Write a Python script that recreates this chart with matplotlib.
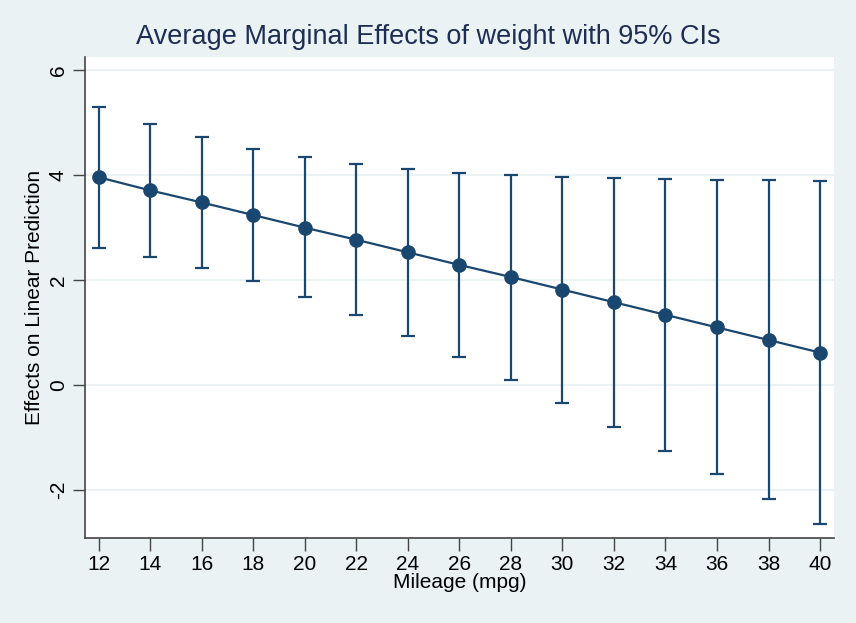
import numpy as np
import matplotlib
matplotlib.use('Agg')
import matplotlib.pyplot as plt

# Average marginal effects of weight at each mileage level (Stata marginsplot)
mpg = [12, 14, 16, 18, 20, 22, 24, 26, 28, 30, 32, 34, 36, 38, 40]
effect = [3.96, 3.71, 3.48, 3.24, 3.00, 2.77, 2.53, 2.29, 2.06, 1.82, 1.58, 1.34, 1.10, 0.86, 0.62]
ci_upper = [5.30, 4.98, 4.72, 4.50, 4.34, 4.21, 4.11, 4.04, 4.01, 3.97, 3.94, 3.92, 3.91, 3.90, 3.89]
ci_lower = [2.61, 2.45, 2.24, 1.98, 1.68, 1.33, 0.94, 0.53, 0.10, -0.34, -0.79, -1.25, -1.70, -2.17, -2.64]
y_ticks = [-2, 0, 2, 4, 6]

plt.rcParams['font.family'] = ['Liberation Sans', 'DejaVu Sans']
plt.rcParams['axes.unicode_minus'] = False

navy = '#1A476F'
bg = '#EAF2F3'

fig = plt.figure(figsize=(8.56, 6.23), dpi=100, facecolor=bg)
ax = fig.add_axes([0.0993, 0.1365, 0.875, 0.772])
ax.set_facecolor('white')

effect = np.array(effect)
yerr = [effect - np.array(ci_lower), np.array(ci_upper) - effect]
ax.errorbar(mpg, effect, yerr=yerr, fmt='none', ecolor=navy, elinewidth=1.6,
            capsize=5, capthick=1.6, zorder=2)
ax.plot(mpg, effect, '-o', color=navy, linewidth=1.6, markersize=9.5, zorder=3)

ax.set_xlim(11.47, 40.54)
ax.set_ylim(-2.91, 6.25)
ax.set_xticks(mpg)
ax.set_yticks(y_ticks)
ax.grid(axis='y', color=bg, linewidth=1.5)
ax.set_axisbelow(True)

for s in ['top', 'right']:
    ax.spines[s].set_visible(False)
for s in ['left', 'bottom']:
    ax.spines[s].set_color('#444444')
    ax.spines[s].set_linewidth(1.2)

ax.tick_params(axis='both', direction='out', length=9, width=1, color='#444444',
               labelsize=15, labelcolor='black')
plt.setp(ax.get_yticklabels(), rotation=90, va='center')

ax.set_xlabel('Mileage (mpg)', fontsize=15, labelpad=-1)
ax.set_ylabel('Effects on Linear Prediction', fontsize=15, labelpad=3)
fig.text(0.5, 0.94, 'Average Marginal Effects of weight with 95% CIs',
         ha='center', va='center', fontsize=19.5, color='#1E2D53')

fig.savefig('out.png', dpi=100, facecolor=bg)
